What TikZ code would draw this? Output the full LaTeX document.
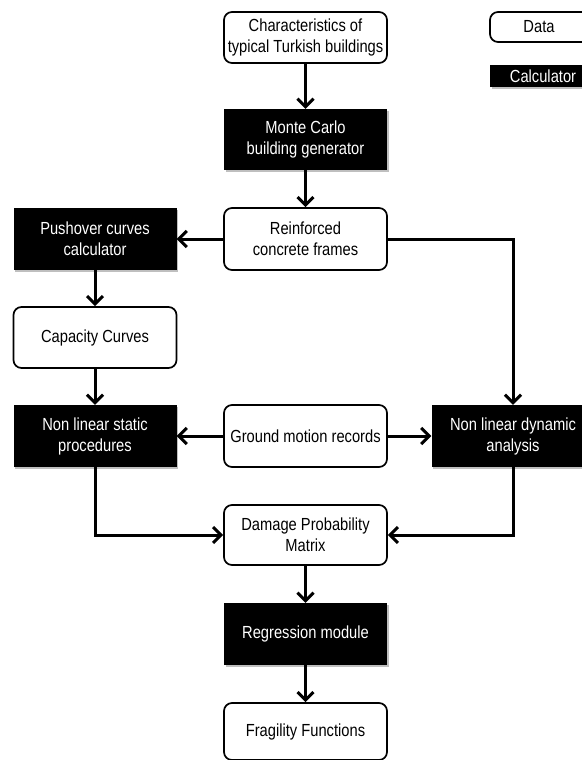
\documentclass[tikz,border=0pt]{standalone}
\usepackage{fontspec}
\setmainfont{Liberation Sans}[FakeStretch=0.84]
\usetikzlibrary{arrows.meta,shadows}
\begin{document}
\begin{tikzpicture}[x=1pt,y=-1pt,
  lbl/.style={font=\fontsize{17.5}{21}\selectfont, align=center, inner sep=0pt},
  data/.style={lbl, draw=black, line width=1.7pt, rounded corners=8pt, fill=white,
    minimum width=163pt, minimum height=62pt},
  calcbox/.style={lbl, fill=black, text=white, minimum width=163pt, minimum height=62pt,
    drop shadow={shadow xshift=1.5pt, shadow yshift=-1.5pt, fill=black, opacity=0.25}},
  arr/.style={line width=3pt, -{Straight Barb[length=8pt,width=16pt]}},
  ln/.style={line width=3pt}
]
\useasboundingbox (0,0) rectangle (581,760);
\fill[white] (0,0) rectangle (581,760);

% legend
\node[data, minimum width=106pt, minimum height=30pt] (legdata) at (543,27) {Data\hspace*{8pt}};
\node[calcbox, minimum width=106pt, minimum height=22pt] (legcalc) at (543,76) {Calculator};

% main nodes
\node[data, minimum height=51pt] (char) at (305.5,37.5) {Characteristics of\\typical Turkish buildings};
\node[calcbox, minimum height=61pt] (monte) at (305.5,139.5) {Monte Carlo\\building generator};
\node[data] (reinf) at (305.5,239) {Reinforced\\concrete frames};
\node[calcbox] (push) at (95,239) {Pushover curves\\calculator};
\node[data, minimum height=61pt] (cap) at (95,337.5) {Capacity Curves};
\node[calcbox] (nls) at (95,436) {Non linear static\\procedures};
\node[data] (ground) at (305.5,436) {Ground motion records};
\node[calcbox] (nld) at (513,436) {Non linear dynamic\\analysis};
\node[data, minimum height=60pt] (dpm) at (305.5,535) {Damage Probability\\Matrix};
\node[calcbox] (reg) at (305.5,634) {Regression module};
\node[data, minimum height=57pt] (frag) at (305.5,731.5) {Fragility Functions};

% connectors
\draw[arr] (char) -- (monte);
\draw[arr] (monte) -- (reinf);
\draw[arr] (reinf) -- (push);
\draw[arr] (reinf.east) -| (nld.north);
\draw[arr] (push) -- (cap);
\draw[arr] (cap) -- (nls);
\draw[arr] (ground) -- (nls);
\draw[arr] (ground) -- (nld);
\draw[arr] (nls.south) |- (dpm.west);
\draw[arr] (nld.south) |- (dpm.east);
\draw[arr] (dpm) -- (reg);
\draw[arr] (reg) -- (frag);
\end{tikzpicture}
\end{document}
